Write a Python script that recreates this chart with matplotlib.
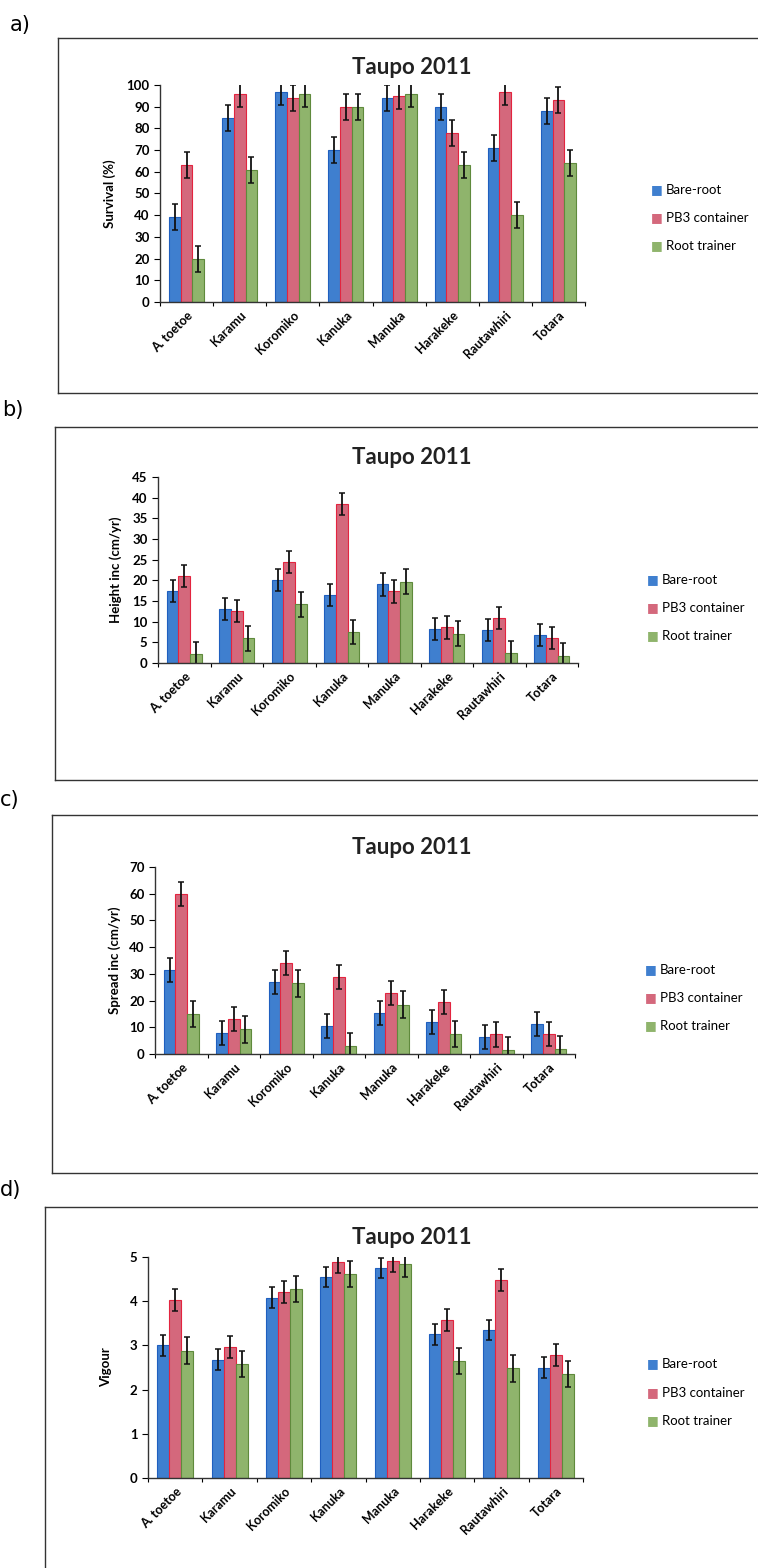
import matplotlib.pyplot as plt
from matplotlib.lines import Line2D
import numpy as np

plt.rcParams['font.family'] = ['Lato', 'DejaVu Sans']

species = ['A. toetoe', 'Karamu', 'Koromiko', 'Kanuka', 'Manuka',
           'Harakeke', 'Rautawhiri', 'Totara']
series = ['Bare-root', 'PB3 container', 'Root trainer']

# a) survival (%)
surv_bare = [39, 85, 97, 70, 94, 90, 71, 88]
surv_pb3 = [63, 96, 94, 90, 95, 78, 97, 93]
surv_root = [20, 61, 96, 90, 96, 63, 40, 64]
surv_err = [6, 6, 6]

# b) height increment (cm/yr)
height_bare = [17.5, 13.0, 20.0, 16.5, 19.0, 8.3, 8.0, 6.8]
height_pb3 = [21.0, 12.5, 24.5, 38.5, 17.3, 8.6, 10.9, 6.1]
height_root = [2.2, 6.0, 14.2, 7.5, 19.7, 7.1, 2.3, 1.8]
height_err = [2.7, 2.7, 3.0]

# c) spread increment (cm/yr)
spread_bare = [31.5, 8.0, 27.0, 10.5, 15.5, 12.0, 6.5, 11.3]
spread_pb3 = [60.0, 13.0, 34.0, 29.0, 22.8, 19.5, 7.3, 7.5]
spread_root = [15.0, 9.3, 26.5, 3.0, 18.5, 7.5, 1.5, 1.8]
spread_err = [4.5, 4.5, 5.0]

# d) vigour score
vig_bare = [3.00, 2.68, 4.08, 4.55, 4.75, 3.25, 3.35, 2.50]
vig_pb3 = [4.02, 2.97, 4.20, 4.88, 4.90, 3.57, 4.47, 2.78]
vig_root = [2.88, 2.58, 4.28, 4.62, 4.85, 2.65, 2.48, 2.35]
vig_err = [0.23, 0.25, 0.30]

face_colors = ['#3f7fcf', '#d4687c', '#8fb46c']
edge_colors = ['#1f5fbf', '#e3243f', '#5f8a3c']

W, H = 758, 1568
fig = plt.figure(figsize=(W / 100, H / 100), dpi=100)


def fig_box(left, top, right, bottom):
    return [left / W, 1 - bottom / H, (right - left) / W, (bottom - top) / H]


def fx(x):
    return x / W


def fy(y):
    return 1 - y / H


panels = [
    dict(tag='a)', tag_xy=(10, 25), frame=(58, 38, 393),
         axes=(160, 85, 585, 302), values=(surv_bare, surv_pb3, surv_root),
         err=surv_err, ymax=100, ystep=10, ylabel='Survival (%)', ylab_x=110,
         title_y=68, legend_x=657, legend_y=(190, 218, 246)),
    dict(tag='b)', tag_xy=(2, 410), frame=(55, 427, 780),
         axes=(158, 477, 578, 663), values=(height_bare, height_pb3, height_root),
         err=height_err, ymax=45, ystep=5, ylabel='Height inc (cm/yr)', ylab_x=116,
         title_y=457, legend_x=653, legend_y=(580, 608, 636)),
    dict(tag='c)', tag_xy=(0, 800), frame=(52, 815, 1173),
         axes=(155, 867, 575, 1054), values=(spread_bare, spread_pb3, spread_root),
         err=spread_err, ymax=70, ystep=10, ylabel='Spread inc (cm/yr)', ylab_x=115,
         title_y=847, legend_x=651, legend_y=(970, 998, 1026)),
    dict(tag='d)', tag_xy=(0, 1190), frame=(45, 1207, 1600),
         axes=(148, 1257, 583, 1478), values=(vig_bare, vig_pb3, vig_root),
         err=vig_err, ymax=5, ystep=1, ylabel='Vigour', ylab_x=106,
         title_y=1238, legend_x=653, legend_y=(1364, 1393, 1421)),
]

x = np.arange(len(species)) + 0.5
width = 0.22

for p in panels:
    # panel frame (open on the right side)
    left, top, bottom = p['frame']
    for xs, ys in [((left, W + 5), (top, top)), ((left, left), (top, bottom)),
                   ((left, W + 5), (bottom, bottom))]:
        fig.add_artist(Line2D([fx(v) for v in xs], [fy(v) for v in ys],
                              color='#333333', lw=1.0))
    fig.text(fx(p['tag_xy'][0]), fy(p['tag_xy'][1]), p['tag'],
             family='DejaVu Sans', fontsize=15, va='center', ha='left')

    ax = fig.add_axes(fig_box(*p['axes']))
    for i, vals in enumerate(p['values']):
        ax.bar(x + (i - 1) * width, vals, width, color=face_colors[i],
               edgecolor=edge_colors[i], linewidth=0.8, label=series[i],
               yerr=p['err'][i], capsize=2.5,
               error_kw=dict(ecolor='#111111', elinewidth=1.3, capthick=1.1))

    ax.set_xlim(0, len(species))
    ax.set_ylim(0, p['ymax'])
    ax.set_yticks(np.arange(0, p['ymax'] + 0.001, p['ystep']))
    ax.set_xticks(np.arange(0, len(species) + 1))
    ax.set_xticklabels([])
    ax.set_xticks(x, minor=True)
    ax.set_xticklabels(species, minor=True, rotation=45, ha='right',
                       rotation_mode='anchor', fontsize=9, fontweight='bold')
    ax.tick_params(axis='x', which='minor', length=0, pad=5)
    ax.tick_params(axis='x', which='major', direction='out', length=3)
    ax.tick_params(axis='y', direction='out', length=4, labelsize=9.5)
    for lab in ax.get_yticklabels():
        lab.set_fontweight('bold')
    for side in ('top', 'right'):
        ax.spines[side].set_visible(False)
    for side in ('left', 'bottom'):
        ax.spines[side].set_linewidth(1.0)
        ax.spines[side].set_color('#333333')

    fig.text(fx(p['ylab_x']), fy((p['axes'][1] + p['axes'][3]) / 2), p['ylabel'],
             rotation=90, ha='center', va='center', fontsize=9.5, fontweight='bold')
    fig.text(fx(412), fy(p['title_y']), 'Taupo 2011', ha='center', va='center',
             fontsize=16, fontweight='bold', color='#222222')

    for i, name in enumerate(series):
        fig.text(fx(p['legend_x']), fy(p['legend_y'][i]), '\u25a0',
                 family='DejaVu Sans', color=face_colors[i], fontsize=9,
                 ha='center', va='center')
        fig.text(fx(p['legend_x'] + 9), fy(p['legend_y'][i]), name,
                 fontsize=9.5, ha='left', va='center')

fig.savefig('out.png', dpi=100, facecolor='white')
